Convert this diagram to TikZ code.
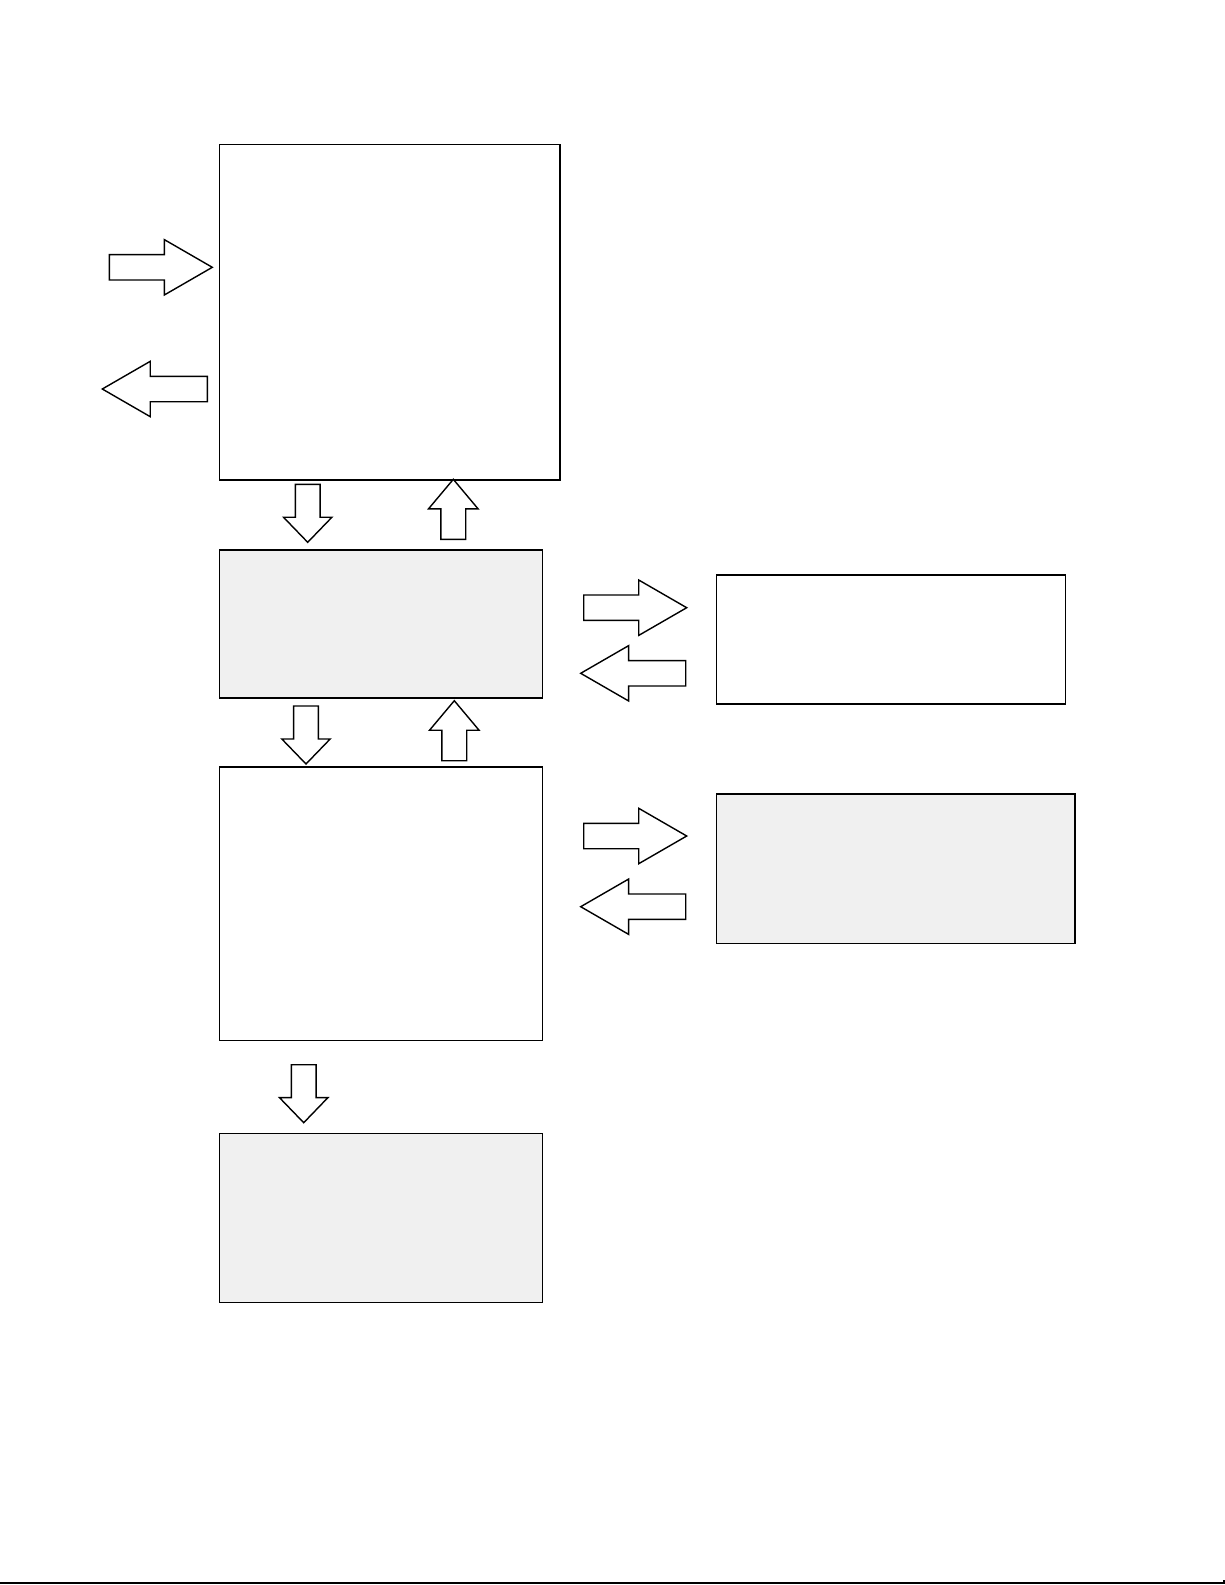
\documentclass[tikz,border=0pt]{standalone}
\usetikzlibrary{shapes.arrows}
\definecolor{boxgray}{HTML}{F0F0F0}
\begin{document}
\begin{tikzpicture}[x=1pt,y=-1pt,
  box/.style={draw=black,line width=1.5pt,inner sep=0pt,fill=white},
  graybox/.style={box,fill=boxgray},
  harrow/.style={single arrow,draw=black,line width=1.4pt,inner sep=12pt,outer sep=0pt,fill=white,minimum height=103pt,minimum width=0pt,single arrow head extend=15pt,single arrow tip angle=60,anchor=tip},
  varrow/.style={single arrow,draw=black,line width=1.4pt,inner sep=11.7pt,outer sep=0pt,fill=white,minimum height=58pt,minimum width=0pt,single arrow head extend=11.8pt,single arrow tip angle=88,anchor=tip}]
\useasboundingbox (0,0) rectangle (1225,1585);
% Boxes left column
\draw (389.6,312.2) node(top)[box,minimum width=340.7pt,minimum height=335.7pt] {};
\draw (380.8,624) node(mid)[graybox,minimum width=323pt,minimum height=148pt] {};
\draw (380.8,903.8) node(low)[box,minimum width=323pt,minimum height=273.7pt] {};
\draw (380.8,1218) node(bot)[graybox,minimum width=323pt,minimum height=169.4pt] {};
% Boxes right column
\draw (891.2,639.5) node(rtop)[box,minimum width=349pt,minimum height=129pt] {};
\draw (895.8,868.7) node(rlow)[graybox,minimum width=358.3pt,minimum height=149.3pt] {};
% Arrows in and out of top
\draw (212.3,267.3) node(inTop)[harrow] {};
\draw (102.3,389) node(outTop)[harrow,shape border rotate=180,minimum height=105pt] {};
% Arrows top - mid
\draw (307.7,542.3) node(downA)[varrow,shape border rotate=270] {};
\draw (453.3,479.3) node(upA)[varrow,shape border rotate=90,single arrow tip angle=80,single arrow head extend=12.4pt,minimum height=60pt] {};
% Arrows mid - low
\draw (306,764) node(downB)[varrow,shape border rotate=270] {};
\draw (454.3,700.7) node(upB)[varrow,shape border rotate=90,single arrow tip angle=80,single arrow head extend=12.4pt,minimum height=60pt] {};
% Arrow low - bot
\draw (303.7,1122.7) node(downC)[varrow,shape border rotate=270] {};
% Arrows mid - rtop
\draw (686.7,607.7) node(rightA)[harrow] {};
\draw (580.7,673.3) node(leftA)[harrow,shape border rotate=180,minimum height=105pt] {};
% Arrows low - rlow
\draw (686.7,836) node(rightB)[harrow] {};
\draw (580.7,906.7) node(leftB)[harrow,shape border rotate=180,minimum height=105pt] {};
% Bottom rule
\draw[line width=1.3pt] (0,1583) -- (1224,1583) -- (1224,1580);
\end{tikzpicture}
\end{document}
